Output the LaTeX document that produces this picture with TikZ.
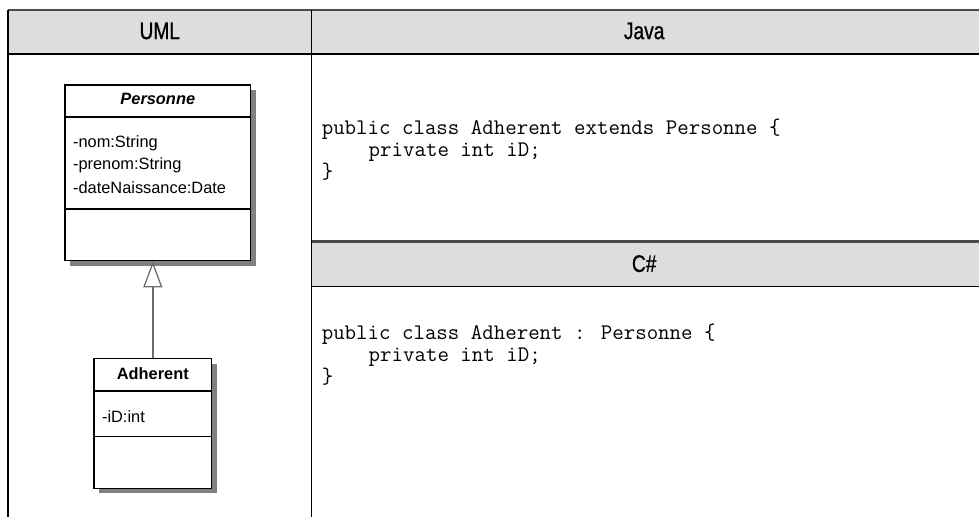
\documentclass[tikz,border=0pt]{standalone}
\usepackage{fontspec}
\setmainfont{Liberation Sans}
\newfontfamily\headfont[FakeStretch=0.8, FakeBold=0.8]{Liberation Sans}
\usepackage{xcolor}
\usetikzlibrary{positioning, shadows, arrows.meta}

\definecolor{headgray}{RGB}{220,221,223}
\definecolor{rulegray}{RGB}{75,75,75}
\definecolor{shadegray}{RGB}{128,128,128}
\definecolor{linkgray}{RGB}{110,110,110}

\begin{document}
\begin{tikzpicture}[x=1pt, y=-1pt,
    headtext/.style={font=\headfont\fontsize{24}{24}\selectfont},
    codeline/.style={font=\ttfamily\fontsize{22.3}{22}\selectfont, anchor=base west, inner sep=0pt},
    umlbox/.style={draw, line width=1.4pt, fill=white, inner sep=0pt,
        drop shadow={fill=shadegray, opacity=1, shadow xshift=5pt, shadow yshift=-5pt}},
    umltext/.style={font=\fontsize{16.4}{18}\selectfont, anchor=west, inner sep=0pt},
    umlname/.style={font=\bfseries\fontsize{16.4}{18}\selectfont, inner sep=0pt}]

    % =================================================================
    % 1. CADRE DU TABLEAU
    % =================================================================
    \def\L{8}      % bord gauche
    \def\M{312}    % separation UML / code
    \def\R{980}    % bord droit

    \fill[headgray] (\L,10) rectangle (\R,54);
    \fill[headgray] (\M,242) rectangle (\R,287);

    \draw[rulegray, line width=2.5pt] (\L,10) -- (\R,10);
    \draw[line width=1.5pt] (\L,54) -- (\R,54);
    \draw[rulegray, line width=2.5pt] (\M,242) -- (\R,242);
    \draw[line width=1.5pt] (\M,287) -- (\R,287);
    \draw[line width=1.5pt] (\L,10) -- (\L,518);
    \draw[line width=1.5pt] (\M,10) -- (\M,518);

    % en-tetes
    \node[headtext] (hUml) at (160,31) {UML};
    \node[headtext] (hJava) at (645,31) {Java};
    \node[headtext] (hCs) at (645,264) {C\#};

    % =================================================================
    % 2. DIAGRAMME UML
    % =================================================================
    \node[umlbox, minimum width=186, minimum height=176] (personne) at (158,173) {};
    \draw[line width=1.4pt] ([yshift=-33pt]personne.north west) -- ([yshift=-33pt]personne.north east);
    \draw[line width=1.4pt] ([yshift=-125pt]personne.north west) -- ([yshift=-125pt]personne.north east);
    \node[umlname, font=\bfseries\itshape\fontsize{16.4}{18}\selectfont] (pName) at (158,99) {Personne};
    \node[umltext] (pNom) at (73,143) {-nom:String};
    \node[umltext] (pPrenom) at (73,165) {-prenom:String};
    \node[umltext] (pDate) at (73,188) {-dateNaissance:Date};

    \node[umlbox, minimum width=118, minimum height=130] (adherent) at (153,424) {};
    \draw[line width=1.4pt] ([yshift=-33pt]adherent.north west) -- ([yshift=-33pt]adherent.north east);
    \draw[line width=1.4pt] ([yshift=-79pt]adherent.north west) -- ([yshift=-79pt]adherent.north east);
    \node[umlname] (aName) at (153,374) {Adherent};
    \node[umltext] (aId) at (102,417) {-iD:int};

    % heritage
    \draw[linkgray, line width=1.5pt, -{Triangle[open, length=26pt, width=19pt, line width=1.3pt]}]
        (adherent.north) -- (adherent.north |- personne.south);

    % =================================================================
    % 3. CODE JAVA ET C#
    % =================================================================
    \node[codeline] (jA) at (322,135) {public class Adherent extends Personne \{};
    \node[codeline] (jB) at (369,157) {private int iD;};
    \node[codeline] (jC) at (322,179) {\}};

    \node[codeline] (cA) at (322,340) {public class Adherent : Personne \{};
    \node[codeline] (cB) at (369,362) {private int iD;};
    \node[codeline] (cC) at (322,384) {\}};

    \useasboundingbox (0,0) rectangle (980,518);
\end{tikzpicture}
\end{document}
